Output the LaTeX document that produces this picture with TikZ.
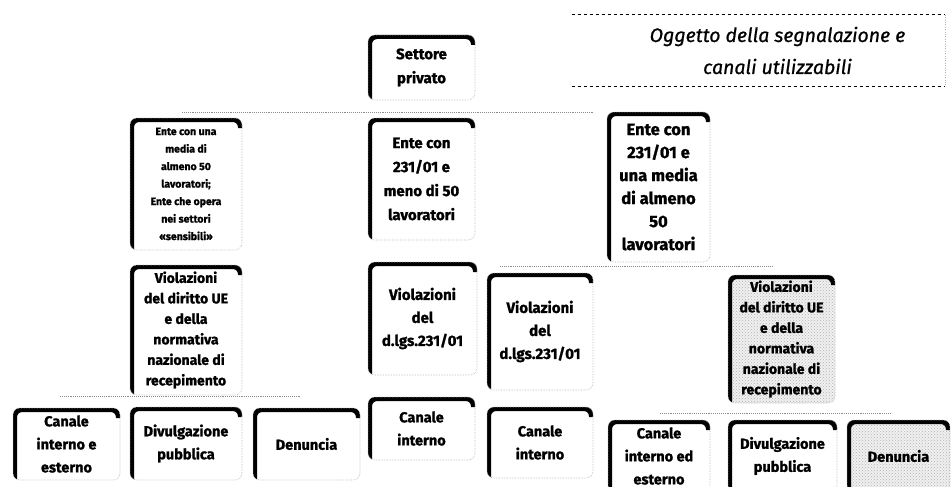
\documentclass[tikz,border=0pt]{standalone}
\usepackage{fontspec}
\setmainfont{Fira Sans}[BoldFeatures={FakeBold=1.3}]
\newfontfamily\titlefont{Fira Sans}[ItalicFeatures={FakeBold=0.8}]
\usetikzlibrary{patterns}
\tikzset{
  box/.style={rectangle, rounded corners=7pt, draw=gray!60, densely dotted, line width=0.6pt,
    inner sep=0pt, outer sep=0pt, align=center,
    path picture={\draw[line width=8pt, solid, black, rounded corners=9pt]
      ([yshift=-2pt]path picture bounding box.south west) -- (path picture bounding box.north west)
      -- (path picture bounding box.north east) -- ([yshift=-10pt]path picture bounding box.north east);}},
  shaded/.style={preaction={fill=gray!12}, pattern=crosshatch dots, pattern color=gray!60},
  bigf/.style={font=\fontsize{15}{24}\selectfont\bfseries},
  ente3f/.style={font=\fontsize{16.5}{23}\selectfont\bfseries},
  smallf/.style={font=\fontsize{10.5}{17.5}\selectfont\bfseries},
  violf/.style={font=\fontsize{14}{20.5}\selectfont\bfseries},
  midf/.style={font=\fontsize{15}{23}\selectfont\bfseries},
  botf/.style={font=\fontsize{14.5}{23}\selectfont\bfseries},
  bus/.style={draw=gray!90, densely dotted, line width=0.9pt}
}
\begin{document}
\begin{tikzpicture}[x=1pt,y=-1pt]
\useasboundingbox (0,0) rectangle (951,487);
% title
\node[minimum width=373pt, minimum height=71pt, inner sep=0pt, align=center,
  font=\fontsize{19.5}{32}\selectfont\titlefont\itshape] (title) at (758.5,50.5)
  {\hspace*{38pt}Oggetto della segnalazione e\\\hspace*{38pt}canali utilizzabili};
\draw[dashed, line width=0.9pt] (title.north west) -- (title.north east);
\draw[dashed, line width=0.9pt] (title.south west) -- (title.south east);
\draw[gray!60, dotted] (title.north east) -- (title.south east);
% level 1
\node[box, bigf, minimum width=107pt, minimum height=65pt] (settore) at (421.5,67.5) {Settore\\privato};
\coordinate (b1l) at (182,112);
\coordinate (b1r) at (593,112);
\draw[bus] (b1l) -- (b1r);
% level 2
\node[box, smallf, minimum width=112pt, minimum height=132pt] (ente1) at (186,184)
  {Ente con una\\media di\\almeno 50\\lavoratori;\\Ente che opera\\nei settori\\«sensibili»};
\node[box, bigf, minimum width=107pt, minimum height=122pt] (ente2) at (421.5,179)
  {Ente con\\231/01 e\\meno di 50\\lavoratori};
\node[box, ente3f, minimum width=103pt, minimum height=150pt] (ente3) at (658.5,187)
  {Ente con\\231/01 e\\una media\\di almeno\\50\\lavoratori};
% level 3
\coordinate (b2l) at (500,266);
\coordinate (b2r) at (773,266);
\draw[bus] (b2l) -- (b2r);
\node[box, violf, minimum width=112pt, minimum height=130pt] (viol1) at (186,330)
  {Violazioni\\del diritto UE\\e della\\normativa\\nazionale di\\recepimento};
\node[box, midf, minimum width=109pt, minimum height=113pt] (viol2) at (422.5,318.5)
  {Violazioni\\del\\d.lgs.231/01};
\node[box, midf, minimum width=106pt, minimum height=117pt] (viol3) at (540,331.5)
  {Violazioni\\del\\d.lgs.231/01};
\node[box, violf, shaded, minimum width=107pt, minimum height=128pt] (viol4) at (781.5,339)
  {Violazioni\\del diritto UE\\e della\\normativa\\nazionale di\\recepimento};
% level 4
\coordinate (b3l) at (60,396);
\coordinate (b3r) at (300,396);
\draw[bus] (b3l) -- (b3r);
\coordinate (b4l) at (660,413);
\coordinate (b4r) at (890,413);
\draw[bus] (b4l) -- (b4r);
\node[box, botf, minimum width=107pt, minimum height=72pt] (can1) at (66.5,444) {Canale\\interno e\\esterno};
\node[box, botf, minimum width=112pt, minimum height=73pt] (div1) at (186,443.5) {Divulgazione\\pubblica};
\node[box, botf, minimum width=107pt, minimum height=72pt] (den1) at (306.5,444) {Denuncia};
\node[box, botf, minimum width=107pt, minimum height=63pt] (can2) at (421.5,428.5) {Canale\\interno};
\node[box, botf, minimum width=106pt, minimum height=71pt] (can3) at (540,442.5) {Canale\\interno};
\node[box, botf, minimum width=102pt, minimum height=72pt] (can4) at (659,456) {Canale\\interno ed\\esterno};
\node[box, botf, minimum width=109pt, minimum height=72pt] (div2) at (782.5,456) {Divulgazione\\pubblica};
\node[box, botf, shaded, minimum width=103pt, minimum height=72pt] (den2) at (898.5,456) {Denuncia};
\end{tikzpicture}
\end{document}
